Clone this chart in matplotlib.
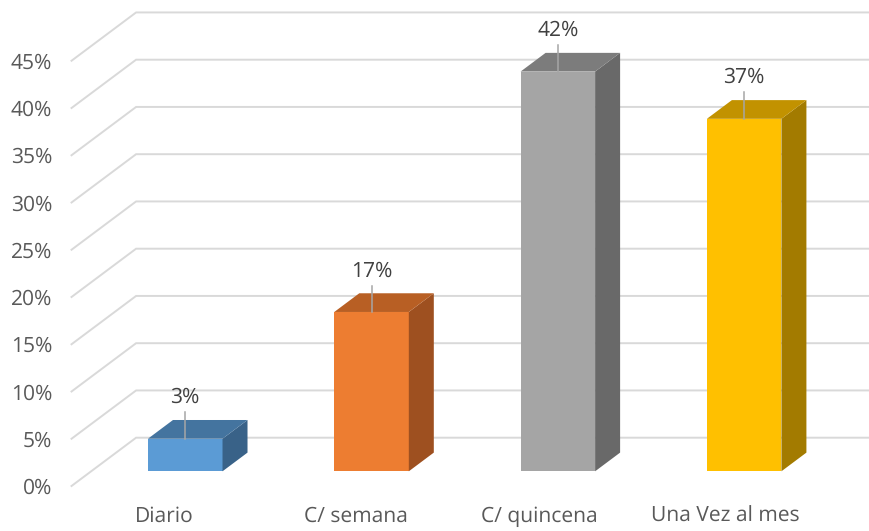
import matplotlib
matplotlib.use("Agg")
import matplotlib.pyplot as plt
from matplotlib.patches import Polygon

plt.rcParams['font.family'] = ['Open Sans', 'DejaVu Sans']
plt.rcParams['text.hinting'] = 'no_hinting'

# Chart data
categories = ['Diario', 'C/ semana', 'C/ quincena', 'Una Vez al mes']
values = [3.45, 16.86, 42.3, 37.3]
value_labels = ['3%', '17%', '42%', '37%']
y_ticks = [0, 5, 10, 15, 20, 25, 30, 35, 40, 45]

# Colours of each bar: front, side, top
front_colors = ['#5B9BD5', '#ED7D31', '#A5A5A5', '#FFC000']
side_colors = ['#396288', '#9E5020', '#696969', '#A37B00']
top_colors = ['#44749F', '#B85F24', '#7C7C7C', '#C29200']

# Oblique projection, in data units per unit of depth
px_x = 186.3
px_y = 9.45
depth_x = 25 / px_x
depth_y = 18.7 / px_y
bar_w = 0.4
wall_x = -0.505
wall_front = -0.786
wall_back = 1.797
font_size = 15.1
cat_shift = [-21, -16, -19, -19]  # category label offset from the bar centre, px


def project(x, v, d=0.0):
    return (x + d * depth_x, v + d * depth_y)


fig = plt.figure(figsize=(8.7, 5.31), dpi=100)
ax = fig.add_axes([0, 0, 1, 1])
ax.set_xlim(-185.25 / px_x, (870 - 185.25) / px_x)
ax.set_ylim(-(531 - 471.3) / px_y, 471.3 / px_y)
ax.axis('off')

# Wall and floor gridlines
for v in y_ticks:
    p0 = project(wall_x, v, wall_front)
    p1 = project(wall_x, v, wall_back)
    p2 = (ax.get_xlim()[1], p1[1])
    ax.plot([p0[0], p1[0], p2[0]], [p0[1], p1[1], p2[1]], color='#D9D9D9', lw=1.4,
            solid_joinstyle='miter', zorder=1)
    ax.text(p0[0] - 19.5 / px_x, p0[1] - 2.5 / px_y, f'{v}%', ha='right',
            va='center', fontsize=font_size, color='#595959')

# Bars
for i, v in enumerate(values):
    xl = i - bar_w / 2
    xr = i + bar_w / 2
    ax.add_patch(Polygon([(xl, 0), (xr, 0), (xr, v), (xl, v)], fc=front_colors[i], lw=0, zorder=3))
    ax.add_patch(Polygon([(xr, 0), project(xr, 0, 1), project(xr, v, 1), (xr, v)],
                         fc=side_colors[i], lw=0, zorder=3))
    ax.add_patch(Polygon([(xl, v), (xr, v), project(xr, v, 1), project(xl, v, 1)],
                         fc=top_colors[i], lw=0, zorder=3))
    # leader line and data label
    ax.plot([i, i], [v, v + 2.8], color='#A6A6A6', lw=1.1, zorder=4)
    ax.text(i, v + 4.35, value_labels[i], ha='center', va='center', fontsize=font_size,
            color='#404040', zorder=5)
    ax.text(i + cat_shift[i] / px_x, -4.75, categories[i], ha='center', va='center',
            fontsize=font_size, color='#595959')

fig.savefig('out.png', dpi=100)
